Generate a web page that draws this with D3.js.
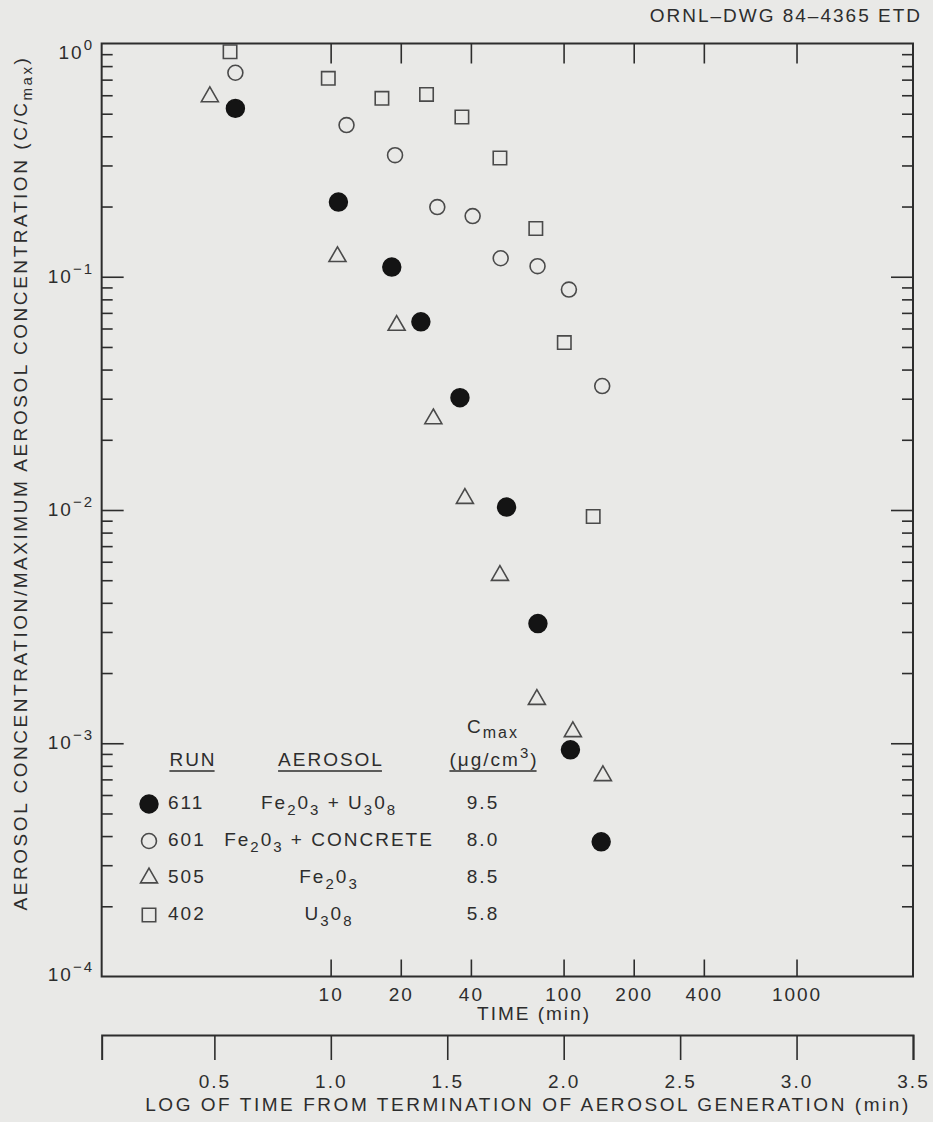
<!DOCTYPE html>
<html>
<head>
<meta charset="utf-8">
<script src="https://cdn.jsdelivr.net/npm/d3@7"></script>
<style>
body { margin: 0; background: #e9e9e7; }
svg text { font-family: "Liberation Sans", Arial, sans-serif; fill: #2d2d2d; letter-spacing: 2px; }
</style>
</head>
<body>
<div id="chart"></div>
<script>
// values (time in min, C/Cmax)
const time611 = [3.9, 10.8, 18.3, 24.4, 35.9, 56.9, 77.6, 107, 145];
const conc611 = [0.527, 0.209, 0.110, 0.0641, 0.0303, 0.0103, 0.00326, 0.000937, 0.000378];

const time601 = [3.9, 11.7, 18.9, 28.7, 40.7, 53.7, 77.3, 105.4, 146.5];
const conc601 = [0.749, 0.447, 0.332, 0.199, 0.182, 0.120, 0.111, 0.0881, 0.0340];

const time505 = [3.03, 10.7, 19.2, 27.6, 37.7, 53.3, 76.8, 109.6, 147.5];
const conc505 = [0.591, 0.122, 0.0619, 0.0246, 0.0112, 0.00524, 0.00154, 0.00112, 0.000726];

const time402 = [3.7, 9.77, 16.6, 25.8, 36.6, 53.3, 76.0, 100.7, 134];
const conc402 = [0.922, 0.709, 0.582, 0.605, 0.484, 0.323, 0.161, 0.0522, 0.00938];

const runs = ["611", "601", "505", "402"];
const cmaxValues = ["9.5", "8.0", "8.5", "5.8"];
const timeTicks = [10, 20, 40, 100, 200, 400, 1000];
const logTicks = [0.5, 1.0, 1.5, 2.0, 2.5, 3.0, 3.5];
const decades = [1e-4, 1e-3, 1e-2, 1e-1, 1];

const W = 933, H = 1122;
const bg = "#e9e9e7", ink = "#2d2d2d", markInk = "#4a4a4a";
const fs = 19, fsSub = 15;

const svg = d3.select("#chart").append("svg")
  .attr("width", W).attr("height", H);
svg.append("rect").attr("width", W).attr("height", H).attr("fill", bg);

// scales: one decade is about 233 px both ways
const x = d3.scaleLog().domain([1, Math.pow(10, 3.5)]).range([97.7, 913]);
const y = d3.scaleLog().domain([1e-4, 1]).range([976.5, 43.5]);
const tMin = 1.04, tMax = Math.pow(10, 3.5);

let minors = [];
decades.slice(0, 4).forEach(d => { for (let k = 2; k <= 9; k++) minors.push(d * k); });

// frame
svg.append("rect")
  .attr("x", x(tMin)).attr("y", y(1))
  .attr("width", x(tMax) - x(tMin)).attr("height", y(1e-4) - y(1))
  .attr("fill", "none").attr("stroke", ink).attr("stroke-width", 2);

function styleAxis(g) {
  g.select(".domain").remove();
  g.selectAll(".tick line").attr("stroke", ink).attr("stroke-width", 1.6);
}

// time ticks, top and bottom
svg.append("g").attr("transform", `translate(0,${y(1e-4)})`)
  .call(d3.axisBottom(x).tickValues(timeTicks).tickSize(-17).tickPadding(11).tickFormat(d3.format("d")))
  .call(styleAxis)
  .selectAll("text").attr("font-size", fs).attr("fill", ink).attr("font-family", null);

svg.append("g").attr("transform", `translate(0,${y(1)})`)
  .call(d3.axisTop(x).tickValues(timeTicks).tickSize(-20).tickFormat(""))
  .call(styleAxis);

// left / right concentration ticks
[[x(tMin), d3.axisLeft], [x(tMax), d3.axisRight]].forEach(([xp, ax]) => {
  svg.append("g").attr("transform", `translate(${xp},0)`)
    .call(ax(y).tickValues(decades.slice(1, 4)).tickSize(-22).tickFormat(""))
    .call(styleAxis);
  svg.append("g").attr("transform", `translate(${xp},0)`)
    .call(ax(y).tickValues(minors).tickSize(-11).tickFormat(""))
    .call(styleAxis);
});

// decade labels 10^n
const expo = ["−4", "−3", "−2", "−1", "0"];
const labelDy = [4, 6, 6, 6, 15];
decades.forEach((d, i) => {
  const t = svg.append("text")
    .attr("x", 94).attr("y", y(d) + labelDy[i])
    .attr("text-anchor", "end").attr("font-size", fs);
  t.append("tspan").text("10");
  t.append("tspan").attr("dy", -9).attr("font-size", fsSub).text(expo[i]);
});

// y title
const yt = svg.append("text")
  .attr("transform", "translate(27,483) rotate(-90)")
  .attr("text-anchor", "middle").attr("font-size", fs).style("letter-spacing", "2.55px");
yt.append("tspan").text("AEROSOL CONCENTRATION/MAXIMUM AEROSOL CONCENTRATION (C/C");
yt.append("tspan").attr("dy", 5).attr("font-size", fsSub).text("max");
yt.append("tspan").attr("dy", -5).text(")");

svg.append("text").attr("x", 534).attr("y", 1020)
  .attr("text-anchor", "middle").attr("font-size", fs).text("TIME (min)");

// log axis underneath
svg.append("g").attr("transform", "translate(0,1035)")
  .call(d3.axisBottom(d3.scaleLinear().domain([0.016, 3.5]).range([x(tMin), x(tMax)]))
    .tickValues(logTicks).tickSize(25).tickSizeOuter(25).tickPadding(15)
    .tickFormat(d3.format(".1f")))
  .call(g => {
    g.select(".domain").attr("stroke", ink).attr("stroke-width", 2);
    g.selectAll(".tick line").attr("stroke", ink).attr("stroke-width", 1.6);
    g.selectAll("text").attr("font-size", fs).attr("fill", ink).attr("font-family", null);
  });

svg.append("text").attr("x", 528).attr("y", 1111)
  .attr("text-anchor", "middle").attr("font-size", fs).style("letter-spacing", "2.55px")
  .text("LOG OF TIME FROM TERMINATION OF AEROSOL GENERATION (min)");

svg.append("text").attr("x", 922).attr("y", 22)
  .attr("text-anchor", "end").attr("font-size", fs)
  .text("ORNL–DWG 84–4365  ETD");

// markers
const shapes = {
  "611": { type: d3.symbolCircle, size: 250, fill: "#141414", stroke: "#141414" },
  "601": { type: d3.symbolCircle, size: 175, fill: bg, stroke: markInk },
  "505": { type: d3.symbolTriangle, size: 125, fill: bg, stroke: markInk },
  "402": { type: d3.symbolSquare, size: 180, fill: bg, stroke: markInk }
};
const series = [
  { run: "611", t: time611, c: conc611 },
  { run: "601", t: time601, c: conc601 },
  { run: "505", t: time505, c: conc505 },
  { run: "402", t: time402, c: conc402 }
];

series.forEach(s => {
  const sh = shapes[s.run];
  svg.append("g").selectAll("path")
    .data(s.t.map((t, i) => [t, s.c[i]]))
    .join("path")
    .attr("transform", d => `translate(${x(d[0])},${y(d[1])})`)
    .attr("d", d3.symbol().type(sh.type).size(sh.size))
    .attr("fill", sh.fill).attr("stroke", sh.stroke).attr("stroke-width", 1.6);
});

// legend
const rowY = [802, 839, 876, 913];
function underline(t) {
  const b = t.node().getBBox();
  svg.append("line").attr("x1", b.x).attr("x2", b.x + b.width - 2)
    .attr("y1", 771).attr("y2", 771).attr("stroke", ink).attr("stroke-width", 1.5);
}
underline(svg.append("text").attr("x", 193).attr("y", 766).attr("text-anchor", "middle")
  .attr("font-size", fs).text("RUN"));
underline(svg.append("text").attr("x", 331).attr("y", 766).attr("text-anchor", "middle")
  .attr("font-size", fs).text("AEROSOL"));
const cu = svg.append("text").attr("x", 494).attr("y", 766).attr("text-anchor", "middle").attr("font-size", fs);
cu.append("tspan").text("(μg/cm");
cu.append("tspan").attr("dy", -8).attr("font-size", fsSub).text("3");
cu.append("tspan").attr("dy", 8).text(")");
underline(cu);
const cm = svg.append("text").attr("x", 467).attr("y", 733).attr("font-size", fs);
cm.append("tspan").text("C");
cm.append("tspan").attr("dy", 5).attr("font-size", fsSub + 1).text("max");

// aerosol names with subscripts: [text, isSub]
const aerosolParts = [
  [["Fe", 0], ["2", 1], ["0", 0], ["3", 1], [" + U", 0], ["3", 1], ["0", 0], ["8", 1]],
  [["Fe", 0], ["2", 1], ["0", 0], ["3", 1], [" + CONCRETE", 0]],
  [["Fe", 0], ["2", 1], ["0", 0], ["3", 1]],
  [["U", 0], ["3", 1], ["0", 0], ["8", 1]]
];

runs.forEach((r, i) => {
  const sh = shapes[r];
  svg.append("path")
    .attr("transform", `translate(149,${rowY[i] + 2})`)
    .attr("d", d3.symbol().type(sh.type).size(sh.size))
    .attr("fill", sh.fill).attr("stroke", sh.stroke).attr("stroke-width", 1.6);
  svg.append("text").attr("x", 168).attr("y", rowY[i] + 7).attr("font-size", fs).text(r);
  const a = svg.append("text").attr("x", 329).attr("y", rowY[i] + 7)
    .attr("text-anchor", "middle").attr("font-size", fs);
  let sub = 0;
  aerosolParts[i].forEach(([txt, s]) => {
    const dy = (s ? 6 : 0) - (sub ? 6 : 0);
    a.append("tspan").attr("dy", dy).attr("font-size", s ? fsSub : fs).text(txt);
    sub = s;
  });
  svg.append("text").attr("x", 483).attr("y", rowY[i] + 7)
    .attr("text-anchor", "middle").attr("font-size", fs).text(cmaxValues[i]);
});
</script>
</body>
</html>
